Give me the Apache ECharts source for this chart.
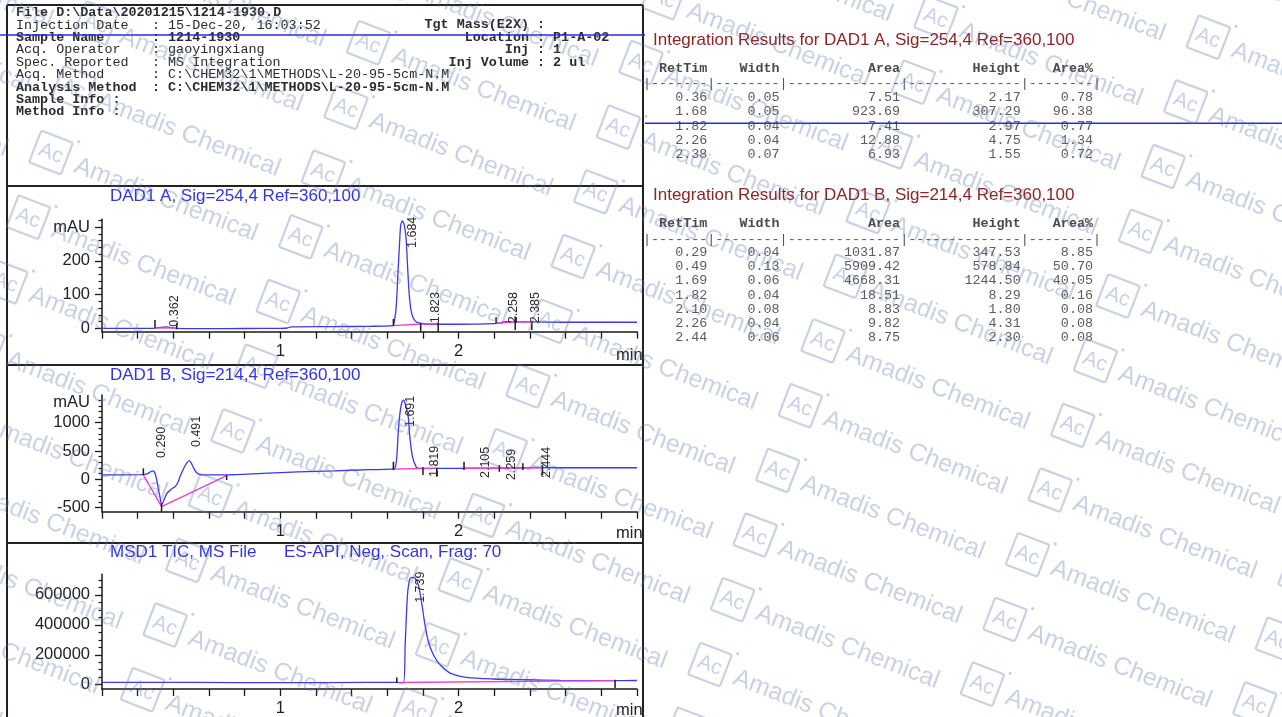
<!DOCTYPE html>
<html><head><meta charset="utf-8">
<script src="https://cdn.jsdelivr.net/npm/echarts@6/dist/echarts.min.js"></script>
<style>html,body{margin:0;padding:0;background:#fff}#c{width:1282px;height:717px}</style>
</head><body><div id="c"></div>
<script>
// ---------------- DATA ----------------
// DAD1 A trace (min, mAU)
const tA = [0, 0.28, 0.30, 0.33, 0.36, 0.39, 0.42, 0.5, 0.7, 0.9, 1.0, 1.04, 1.06, 1.3, 1.5, 1.62, 1.634, 1.649, 1.658, 1.668, 1.675, 1.684, 1.695, 1.705, 1.714, 1.723, 1.736, 1.755, 1.783, 1.85, 2.0, 2.2, 2.24, 2.26, 2.3, 2.4, 2.6, 2.8, 3.0];
const vA = [0, 0, 1, 3, 4, 2, 0, -1, -1, 0, 0, 1, 4, 5, 6, 7, 9, 59, 148, 247, 306, 318, 306, 267, 178, 99, 45, 22, 15, 12, 12, 14, 17, 20, 19, 19, 18, 18, 18];
const baseA = [[0.297, 1, 0.419, 1], [1.634, 8, 1.787, 13], [1.787, 13, 1.885, 13], [2.21, 15, 2.317, 19], [2.317, 19, 2.41, 19]];
const marksA = [[0.297, 2, 25], [0.419, -3, 15], [1.634, 8, 28], [1.787, -10, 15], [1.885, -10, 18], [2.21, 15, 33], [2.317, -5, 35], [2.41, -5, 20]];
const labelPosA = [[0.409, 5], [1.741, 238], [1.873, 15], [2.307, 15], [2.432, 15]];
const labelTextA = ['0.362', '1.684', '1.823', '2.258', '2.385'];

// DAD1 B trace (min, mAU)
const tB = [0, 0.22, 0.25, 0.27, 0.285, 0.30, 0.315, 0.325, 0.334, 0.347, 0.36, 0.372, 0.39, 0.409, 0.425, 0.437, 0.452, 0.465, 0.478, 0.489, 0.50, 0.512, 0.523, 0.534, 0.55, 0.568, 0.7, 0.9, 1.1, 1.3, 1.5, 1.62, 1.643, 1.653, 1.662, 1.67, 1.68, 1.69, 1.70, 1.717, 1.726, 1.741, 1.763, 1.78, 2.0, 2.2, 2.3, 2.45, 2.5, 3.0];
const vB = [80, 82, 90, 130, 150, 80, -150, -310, -455, -370, -270, -220, -170, -130, -60, 46, 150, 235, 300, 329, 290, 212, 150, 106, 85, 78, 80, 105, 130, 150, 170, 180, 200, 400, 871, 1150, 1343, 1401, 1340, 1106, 753, 400, 212, 195, 195, 198, 200, 210, 205, 205];
const baseB = [[0.232, 76, 0.334, -484], [0.334, -484, 0.699, 64], [1.634, 180, 1.80, 192], [1.80, 192, 1.877, 193], [2.03, 195, 2.228, 197], [2.228, 197, 2.36, 200], [2.36, 200, 2.47, 205]];
const marksB = [[0.232, 76, 194], [0.334, -572, -424], [0.699, -12, 76], [1.634, 164, 311], [1.80, 76, 212], [1.877, 46, 194], [2.03, 164, 311], [2.228, 134, 253], [2.36, 164, 282], [2.47, 76, 253]];
const labelPosB = [[0.335, 376], [0.531, 571], [1.731, 924], [1.862, 41], [2.148, 23], [2.298, -12], [2.490, 23]];
const labelTextB = ['0.290', '0.491', '1.691', '1.819', '2.105', '2.259', '2.444'];

// MSD1 TIC trace (min, counts)
const tM = [0, 0.5, 1.0, 1.5, 1.653, 1.69, 1.70, 1.713, 1.727, 1.74, 1.755, 1.774, 1.793, 1.811, 1.83, 1.858, 1.896, 1.952, 2.045, 2.195, 2.38, 2.57, 2.868, 3.0];
const vM = [15000, 15000, 14000, 15000, 15000, 12000, 267000, 600000, 711000, 718000, 712000, 667000, 544000, 400000, 289000, 200000, 133000, 78000, 49000, 38000, 33000, 29000, 27000, 28000];
const baseM = [[1.653, 15000, 2.877, 27000]];
const marksM = [[1.653, 11000, 49000], [2.877, -22000, 33000]];
const labelPosM = [[1.784, 547000]];
const labelTextM = ['1.739'];

// axis ticks / labels
const xTickValues = [0, 0.2, 0.4, 0.6, 0.8, 1.0, 1.2, 1.4, 1.6, 1.8, 2.0, 2.2, 2.4, 2.6, 2.8, 3.0];
const xLabelValues = [1, 2];
const yLabelsA = [0, 100, 200, 300];
const yMajorA = [0, 100, 200, 300];
const yMinorA = [20, 40, 60, 80, 120, 140, 160, 180, 220, 240, 260, 280, 320];
const yLabelsB = [-500, 0, 500, 1000, 1350];
const yMajorB = [-500, 0, 500, 1000];
const yMinorB = [-400, -300, -200, -100, 100, 200, 300, 400, 600, 700, 800, 900, 1100, 1200, 1300, 1400];
const yLabelsM = [0, 200000, 400000, 600000];
const yMajorM = [0, 200000, 400000, 600000];
const yMinorM = [50000, 100000, 150000, 250000, 300000, 350000, 450000, 500000, 550000, 650000, 700000];

// report header
const headerLabels = ['File D:\\Data\\20201215\\1214-1930.D', 'Injection Date', 'Sample Name', 'Acq. Operator', 'Spec. Reported', 'Acq. Method', 'Analysis Method', 'Sample Info :', 'Method Info :'];
const headerValues = [null, '15-Dec-20, 16:03:52', '1214-1930', 'gaoyingxiang', 'MS Integration', 'C:\\CHEM32\\1\\METHODS\\L-20-95-5cm-N.M', 'C:\\CHEM32\\1\\METHODS\\L-20-95-5cm-N.M', null, null];
const headerRightLabels = [null, 'Tgt Mass(E2X)', 'Location', 'Inj', 'Inj Volume', null, null, null, null];
const headerRightValues = [null, '', 'P1-A-02', '1', '2 ul', null, null, null, null];

// integration tables
const tableCols = ['RetTim', 'Width', 'Area', 'Height', 'Area%'];
const retTimA = [0.36, 1.68, 1.82, 2.26, 2.38];
const widthA = [0.05, 0.05, 0.04, 0.04, 0.07];
const areaA = [7.51, 923.69, 7.41, 12.88, 6.93];
const heightA = [2.17, 307.29, 2.97, 4.75, 1.55];
const pctA = [0.78, 96.38, 0.77, 1.34, 0.72];
const retTimB = [0.29, 0.49, 1.69, 1.82, 2.10, 2.26, 2.44];
const widthB = [0.04, 0.13, 0.06, 0.04, 0.08, 0.04, 0.06];
const areaB = [1031.87, 5909.42, 4668.31, 18.51, 8.83, 9.82, 8.75];
const heightB = [347.53, 578.84, 1244.50, 8.29, 1.80, 4.31, 2.30];
const pctB = [8.85, 50.70, 40.05, 0.16, 0.08, 0.08, 0.08];

// ---------------- STYLE ----------------
const MONO = '"Liberation Mono","DejaVu Sans Mono",monospace';
const SANS = '"Liberation Sans",Arial,sans-serif';
const BLUE = '#3a3aec';
const PINK = '#f040d0';
const INK = '#1a1a1a';
const WM = 'rgba(95,115,170,0.33)';

const chart = echarts.init(document.getElementById('c'));

const grids = [
  {left: 102, top: 219.3, width: 535, height: 112.4},
  {left: 102, top: 395, width: 535, height: 116.7},
  {left: 102, top: 574.3, width: 535, height: 115}
];
const yRange = [[-10, 323], [-572, 1490], [-28700, 738000]];
const yLabels = [yLabelsA, yLabelsB, yLabelsM];
const yMajor = [yMajorA, yMajorB, yMajorM];
const yMinor = [yMinorA, yMinorB, yMinorM];
const mauVal = [300, 1350, null];

const xAxes = [0, 1, 2].map(i => ({
  type: 'value', gridIndex: i, min: 0, max: 3, interval: 0.2,
  axisLine: {show: true, onZero: false, lineStyle: {color: INK, width: 1.5}},
  axisTick: {show: true, length: 7, customValues: xTickValues, lineStyle: {color: INK, width: 1.3}},
  axisLabel: {show: true, customValues: xLabelValues, formatter: v => String(Math.round(v)), margin: 11, fontSize: 16.5, fontFamily: SANS, color: '#222'},
  splitLine: {show: false}
}));
const yAxes = [];
[0, 1, 2].forEach(i => {
  yAxes.push({
    type: 'value', gridIndex: i, min: yRange[i][0], max: yRange[i][1],
    axisLine: {show: true, onZero: false, lineStyle: {color: INK, width: 1.5}},
    axisTick: {show: true, length: 7, customValues: yMajor[i], lineStyle: {color: INK, width: 1.3}},
    axisLabel: {show: true, customValues: yLabels[i], margin: 12, fontSize: 16.5, fontFamily: SANS, color: '#222',
      formatter: v => (v === mauVal[i] ? 'mAU' : String(v))},
    splitLine: {show: false}
  });
  yAxes.push({
    type: 'value', gridIndex: i, min: yRange[i][0], max: yRange[i][1], position: 'left',
    axisLine: {show: false},
    axisTick: {show: true, length: 3.5, customValues: yMinor[i], lineStyle: {color: INK, width: 1.2}},
    axisLabel: {show: false}, splitLine: {show: false}
  });
});

function traceSeries(i, ts, vs) {
  return {type: 'line', xAxisIndex: i, yAxisIndex: i * 2, data: ts.map((t, k) => [t, vs[k]]),
    showSymbol: false, symbol: 'none', smooth: 0.25, clip: false, z: 3,
    lineStyle: {color: BLUE, width: 1.3}};
}
function segSeries(i, segs) {
  return {type: 'custom', xAxisIndex: i, yAxisIndex: i * 2, data: segs, clip: false, z: 4,
    renderItem: (p, api) => {
      const a = api.coord([api.value(0), api.value(1)]);
      const b = api.coord([api.value(2), api.value(3)]);
      return {type: 'line', shape: {x1: a[0], y1: a[1], x2: b[0], y2: b[1]}, style: {stroke: PINK, lineWidth: 1.4}};
    }};
}
function markSeries(i, marks) {
  return {type: 'custom', xAxisIndex: i, yAxisIndex: i * 2, data: marks, clip: false, z: 5,
    renderItem: (p, api) => {
      const a = api.coord([api.value(0), api.value(1)]);
      const b = api.coord([api.value(0), api.value(2)]);
      return {type: 'line', shape: {x1: a[0], y1: a[1], x2: b[0], y2: b[1]}, style: {stroke: INK, lineWidth: 1.5}};
    }};
}
function labelSeries(i, pos, texts) {
  return {type: 'custom', xAxisIndex: i, yAxisIndex: i * 2, data: pos, clip: false, z: 6,
    renderItem: (p, api) => {
      const a = api.coord([api.value(0), api.value(1)]);
      return {type: 'text', x: a[0], y: a[1], rotation: Math.PI / 2,
        style: {text: texts[p.dataIndex], fontSize: 12.5, fontFamily: SANS, fill: '#2a2a2a', align: 'left', verticalAlign: 'middle'}};
    }};
}

const series = [
  traceSeries(0, tA, vA), segSeries(0, baseA), markSeries(0, marksA), labelSeries(0, labelPosA, labelTextA),
  traceSeries(1, tB, vB), segSeries(1, baseB), markSeries(1, marksB), labelSeries(1, labelPosB, labelTextB),
  traceSeries(2, tM, vM), segSeries(2, baseM), markSeries(2, marksM), labelSeries(2, labelPosM, labelTextM)
];

// ---------------- GRAPHIC ----------------
const g = [];
function txt(x, y, text, o) {
  g.push(Object.assign({type: 'text', x, y, silent: true, z: 10,
    style: Object.assign({text, fontFamily: MONO, fontSize: 13.4, fill: '#2b2b2b', align: 'left', verticalAlign: 'middle'}, o || {})}));
}
function ln(x1, y1, x2, y2, color, w) {
  g.push({type: 'line', silent: true, z: 12, shape: {x1, y1, x2, y2}, style: {stroke: color, lineWidth: w}});
}
// frames
ln(7, 5, 643, 5, '#222', 2);
ln(7, 5, 7, 717, '#222', 2);
ln(643, 5, 643, 717, '#222', 2);
ln(7, 186, 643, 186, '#222', 2);
ln(7, 365, 643, 365, '#222', 2);
ln(7, 543, 643, 543, '#222', 2);
// header
const rowY = [12.5, 25, 37.4, 49.9, 62.3, 74.8, 87.2, 99.7, 112.1];
const boldRows = [0, 2, 6, 7, 8];
headerLabels.forEach((l, k) => {
  const fw = boldRows.includes(k) ? 'bold' : 'normal';
  txt(16, rowY[k], l, {fontWeight: fw});
  if (headerValues[k] !== null) txt(152, rowY[k], ': ' + headerValues[k], {fontWeight: fw});
  if (headerRightLabels[k] !== null) {
    txt(537, rowY[k], headerRightLabels[k] + ' ', {align: 'right', fontWeight: 'bold'});
    txt(537, rowY[k], ': ' + headerRightValues[k], {fontWeight: 'bold'});
  }
});
ln(0, 35, 645, 35, '#2a2ae0', 1.6);
ln(645, 123.3, 1282, 123.3, '#2a2ae0', 1.6);
// chart titles
txt(110, 196.5, 'DAD1 A, Sig=254,4 Ref=360,100', {fontFamily: SANS, fontSize: 17, fill: '#3434e4'});
txt(110, 375.5, 'DAD1 B, Sig=214,4 Ref=360,100', {fontFamily: SANS, fontSize: 17, fill: '#3434e4'});
txt(110, 552, 'MSD1 TIC, MS File', {fontFamily: SANS, fontSize: 17, fill: '#3434e4'});
txt(284, 552, 'ES-API, Neg, Scan, Frag: 70', {fontFamily: SANS, fontSize: 17, fill: '#3434e4'});
txt(616, 355, 'min', {fontFamily: SANS, fontSize: 16.5, fill: '#222'});
txt(616, 533, 'min', {fontFamily: SANS, fontSize: 16.5, fill: '#222'});
txt(616, 710, 'min', {fontFamily: SANS, fontSize: 16.5, fill: '#222'});
// tables
const colW = [8, 9, 15, 15, 9];
const rowStr = cells => cells.map((c, i) => String(c).padStart(colW[i])).join('');
const sepStr = '|-------|--------|--------------|--------------|--------|';
function table(titleY, headY, sepY, firstY, step, title, cols) {
  txt(653, titleY, title, {fontFamily: SANS, fontSize: 17, fill: '#8e2424'});
  txt(643, headY, rowStr(tableCols), {fontWeight: 'bold', fill: '#4a4a4a'});
  txt(643, sepY, sepStr, {fill: '#555'});
  cols[0].forEach((_, r) => {
    txt(643, firstY + r * step, rowStr(cols.map(c => c[r].toFixed(2))), {fill: '#5c5c5c'});
  });
}
table(40, 68.3, 83.3, 97.7, 14.2, 'Integration Results for DAD1 A, Sig=254,4 Ref=360,100', [retTimA, widthA, areaA, heightA, pctA]);
table(195, 223.3, 239.3, 252.7, 14.1, 'Integration Results for DAD1 B, Sig=214,4 Ref=360,100', [retTimB, widthB, areaB, heightB, pctB]);
// watermark lattice
for (let a = -4; a <= 6; a++) {
  for (let b = -12; b <= 14; b++) {
    const x = 528 + a * 295 - b * 22.6, y = 386 - a * 45 + b * 64.7;
    if (x < -260 || x > 1320 || y < -70 || y > 790) continue;
    g.push({type: 'group', x, y, rotation: -0.366, silent: true, z: 100, children: [
      {type: 'rect', shape: {x: -17, y: -17, width: 34, height: 34, r: 2}, style: {fill: 'none', stroke: WM, lineWidth: 2.2}, z: 100},
      {type: 'circle', shape: {cx: 22, cy: -20, r: 1.6}, style: {fill: WM}, z: 100},
      {type: 'text', x: 0, y: 1, style: {text: 'Ac', fontFamily: SANS, fontSize: 21, fill: WM, align: 'center', verticalAlign: 'middle'}, z: 100},
      {type: 'text', x: 27, y: 3, style: {text: 'Amadis Chemical', fontFamily: SANS, fontSize: 25, fill: WM, align: 'left', verticalAlign: 'middle'}, z: 100}
    ]});
  }
}

chart.setOption({
  animation: false,
  backgroundColor: '#ffffff',
  grid: grids,
  xAxis: xAxes,
  yAxis: yAxes,
  series,
  graphic: {elements: g}
});
</script></body></html>
